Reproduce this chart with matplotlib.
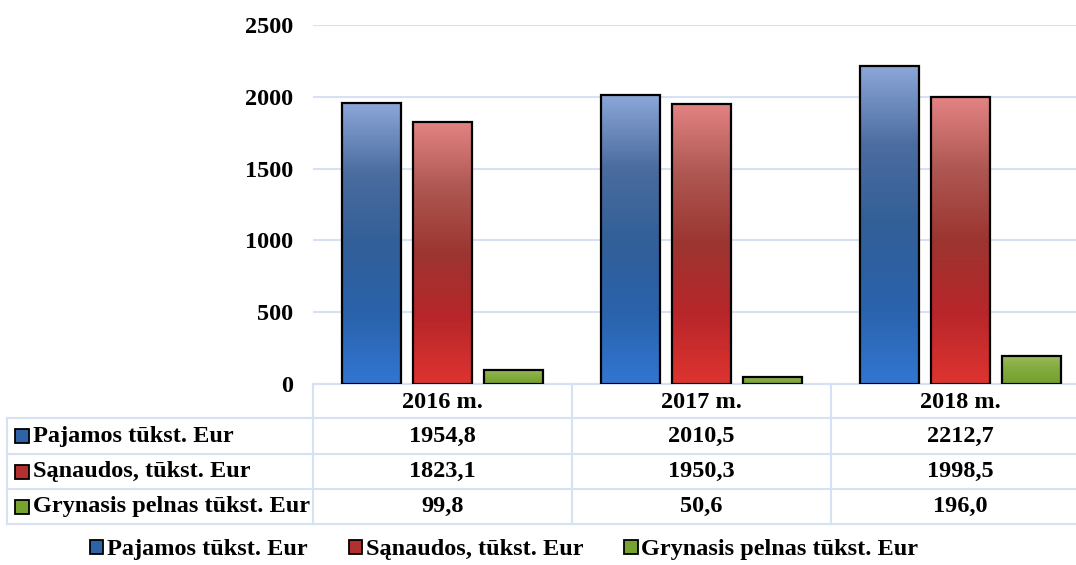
import matplotlib.pyplot as plt
import numpy as np
from matplotlib.colors import LinearSegmentedColormap
from matplotlib.patches import Patch
from matplotlib.lines import Line2D

plt.rcParams['font.family'] = ['Liberation Serif', 'DejaVu Serif']
plt.rcParams['font.weight'] = 'bold'

years = ['2016 m.', '2017 m.', '2018 m.']
series_names = ['Pajamos tūkst. Eur', 'Sąnaudos, tūkst. Eur', 'Grynasis pelnas tūkst. Eur']
pajamos = [1954.8, 2010.5, 2212.7]
sanaudos = [1823.1, 1950.3, 1998.5]
pelnas = [99.8, 50.6, 196.0]
yticks = [0, 500, 1000, 1500, 2000, 2500]

values = [pajamos, sanaudos, pelnas]
# gradient stops bottom -> top
gradients = [
    ['#3276d2', '#2a62ab', '#325f98', '#4b6c9f', '#8ca6d8'],
    ['#de3430', '#b8262a', '#9c3530', '#ae5752', '#e38383'],
    ['#76a02c', '#7ba535', '#82ab3e', '#8db24a', '#a0c060'],
]
legend_colors = ['#2e63a8', '#b23030', '#78a32e']
grid_color = '#d6e2f3'
fs = 17.5

fig = plt.figure(figsize=(10.76, 5.65), dpi=100)
ax = fig.add_axes([313 / 1076, 1 - 384 / 565, 777 / 1076, 359 / 565])

x = np.arange(len(years))
width = 0.228
offset = 0.274

grad = np.linspace(0, 1, 256).reshape(-1, 1)
for i, vals in enumerate(values):
    bars = ax.bar(x + (i - 1) * offset, vals, width, facecolor='none',
                  edgecolor='black', linewidth=1.6, zorder=3)
    cmap = LinearSegmentedColormap.from_list('g%d' % i, gradients[i])
    for rect in bars:
        x0, y0 = rect.get_xy()
        im = ax.imshow(grad, cmap=cmap, origin='lower', aspect='auto',
                       extent=[x0, x0 + rect.get_width(), y0, y0 + rect.get_height()],
                       zorder=2)
        im.set_clip_path(rect)

ax.set_xlim(-0.5, len(years) - 0.5)
ax.set_ylim(0, 2500)
ax.set_yticks(yticks)
ax.set_yticklabels([str(t) for t in yticks], fontsize=fs, fontweight='bold')
ax.tick_params(axis='y', length=0, pad=14)
ax.set_xticks([])
ax.yaxis.grid(True, color=grid_color, linewidth=1.5)
ax.set_axisbelow(True)
for s in ['left', 'right', 'top']:
    ax.spines[s].set_visible(False)
ax.spines['bottom'].set_color(grid_color)
ax.spines['bottom'].set_linewidth(1.5)

# data table below the axis
tr = ax.get_xaxis_transform()
ta = ax.transAxes
row_edges = [0, -0.0947, -0.195, -0.2925, -0.39]
left_edge = -0.394
lkw = dict(color=grid_color, linewidth=1.5, clip_on=False)
for yb in row_edges[1:]:
    ax.add_line(Line2D([left_edge, 1.0], [yb, yb], transform=ta, **lkw))
ax.add_line(Line2D([left_edge, left_edge], [row_edges[1], row_edges[-1]], transform=ta, **lkw))
for xv in np.arange(len(years) + 1) - 0.5:
    ax.add_line(Line2D([xv, xv], [0, row_edges[-1]], transform=tr, **lkw))

for j, yr in enumerate(years):
    ax.text(j, (row_edges[0] + row_edges[1]) / 2 - 0.005, yr, transform=tr, ha='center',
            va='center', fontsize=fs, fontweight='bold')
for i, (name, vals) in enumerate(zip(series_names, values)):
    yc = (row_edges[i + 1] + row_edges[i + 2]) / 2
    ax.plot([left_edge + 0.0195], [yc], marker='s', markersize=9.5, transform=ta,
            clip_on=False, markerfacecolor=legend_colors[i], markeredgecolor='black',
            markeredgewidth=1.3)
    ax.text(left_edge + 0.033, yc, name, transform=ta, ha='left', va='center',
            fontsize=fs, fontweight='bold')
    for j, v in enumerate(vals):
        ax.text(j, yc, f'{v:.1f}'.replace('.', ','), transform=tr, ha='center',
                va='center', fontsize=fs, fontweight='bold')

handles = [Patch(facecolor=c, edgecolor='black', linewidth=1.3) for c in legend_colors]
fig.legend(handles, series_names, loc='center', bbox_to_anchor=(504 / 1076, 1 - 550 / 565),
           ncol=3, frameon=False, prop={'size': fs, 'weight': 'bold'},
           handlelength=0.55, handleheight=0.55, handletextpad=0.15, columnspacing=1.7)

fig.savefig('out.png', dpi=100)
